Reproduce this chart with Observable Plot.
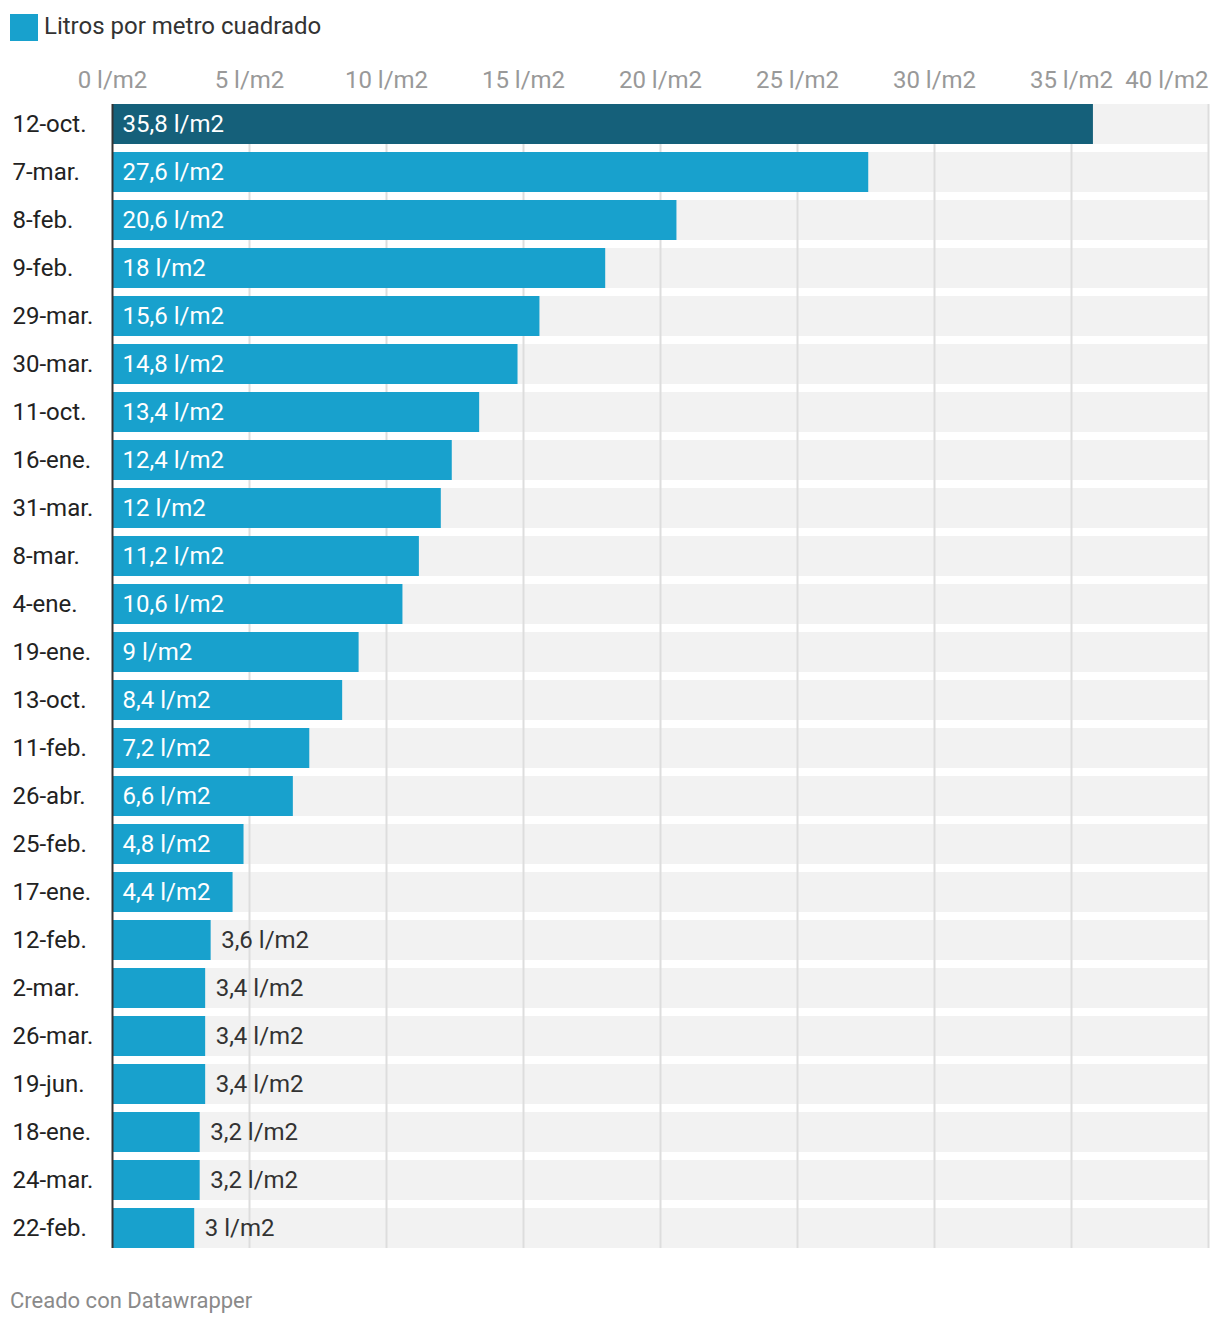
<!DOCTYPE html>
<html>
<head>
<meta charset="utf-8">
<script src="https://cdn.jsdelivr.net/npm/d3@7"></script>
<script src="https://cdn.jsdelivr.net/npm/@observablehq/plot@0.6"></script>
<style>
  html, body { margin: 0; padding: 0; background: #fff; }
  body { width: 1220px; font-family: Roboto, "Noto Sans", sans-serif; }
  #legend { height: 54px; position: relative; }
  #legend .sw { position: absolute; left: 10px; top: 14px; width: 28px; height: 27px; background: #18a1cd; }
  #legend .lb { position: absolute; left: 44px; top: 11px; font-size: 24px; color: #333; line-height: 30px; }
  #chart svg { display: block; overflow: visible; }
  #footer { height: 56px; position: relative; }
  #footer span { position: absolute; left: 10px; top: 16px; font-size: 22px; color: #8a8a8a; line-height: 30px; }
</style>
</head>
<body>
<div id="legend"><div class="sw"></div><div class="lb">Litros por metro cuadrado</div></div>
<div id="chart"></div>
<div id="footer"><span>Creado con Datawrapper</span></div>
<script>
const dates = ["12-oct.","7-mar.","8-feb.","9-feb.","29-mar.","30-mar.","11-oct.","16-ene.","31-mar.","8-mar.","4-ene.","19-ene.","13-oct.","11-feb.","26-abr.","25-feb.","17-ene.","12-feb.","2-mar.","26-mar.","19-jun.","18-ene.","24-mar.","22-feb."];
const values = [35.8,27.6,20.6,18,15.6,14.8,13.4,12.4,12,11.2,10.6,9,8.4,7.2,6.6,4.8,4.4,3.6,3.4,3.4,3.4,3.2,3.2,3];
const ticks = [0,5,10,15,20,25,30,35,40];
const seriesName = "Litros por metro cuadrado";

const data = dates.map((d, i) => ({date: d, value: values[i], highlight: i === 0}));
const fmt = v => String(v).replace(".", ",") + " l/m2";
const inside = data.filter(d => d.value >= 4);
const outside = data.filter(d => d.value < 4);

const chart = Plot.plot({
  width: 1220,
  height: 1216,
  marginTop: 42,
  marginBottom: 14,
  marginLeft: 112,
  marginRight: 12,
  style: {fontFamily: "Roboto, 'Noto Sans', sans-serif", background: "transparent"},
  x: {domain: [0, 40], axis: null},
  y: {domain: dates, axis: null, padding: 1/6},
  marks: [
    Plot.barX(data, {y: "date", x1: 0, x2: 40, fill: "#f2f2f2"}),
    Plot.ruleX(ticks.filter(t => t > 0), {stroke: "#dddddd", strokeWidth: 2, insetTop: 8, insetBottom: 8}),
    Plot.barX(data, {y: "date", x: "value", fill: d => d.highlight ? "#15607a" : "#18a1cd"}),
    Plot.ruleX([0], {stroke: "#333", strokeWidth: 2, insetTop: 8, insetBottom: 8}),
    Plot.text(ticks.filter(t => t < 40), {x: d => d, text: d => d + " l/m2", frameAnchor: "top", dy: -26, fill: "#999", fontSize: 24, textAnchor: "middle"}),
    Plot.text(ticks.filter(t => t === 40), {x: d => d, text: d => d + " l/m2", frameAnchor: "top", dy: -26, fill: "#999", fontSize: 24, textAnchor: "end"}),
    Plot.text(data, {y: "date", x: 0, text: "date", textAnchor: "start", dx: -100, fill: "#222", fontSize: 24}),
    Plot.text(inside, {y: "date", x: 0, text: d => fmt(d.value), textAnchor: "start", dx: 10, fill: "#fff", fontSize: 24}),
    Plot.text(outside, {y: "date", x: "value", text: d => fmt(d.value), textAnchor: "start", dx: 10, fill: "#333", fontSize: 24})
  ]
});
document.getElementById("chart").appendChild(chart);
</script>
</body>
</html>
